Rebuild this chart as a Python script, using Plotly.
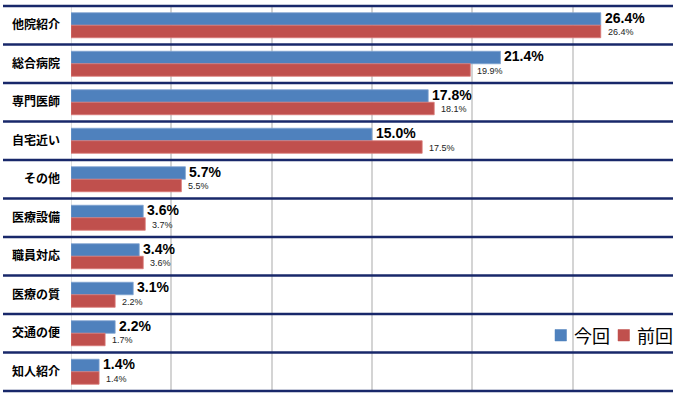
import plotly.graph_objects as go

categories = ["他院紹介", "総合病院", "専門医師", "自宅近い", "その他",
              "医療設備", "職員対応", "医療の質", "交通の便", "知人紹介"]
current = [26.4, 21.4, 17.8, 15.0, 5.7, 3.6, 3.4, 3.1, 2.2, 1.4]
previous = [26.4, 19.9, 18.1, 17.5, 5.5, 3.7, 3.6, 2.2, 1.7, 1.4]
series_names = ["今回", "前回"]
x_ticks = [0, 5, 10, 15, 20, 25, 30]

BLUE = "#4F81BD"
RED = "#C0504D"
NAVY = "#18286a"
W, H = 680, 396
ML, MR, MT, MB = 71, 7, 6, 5
PW, PH = W - ML - MR, H - MT - MB

fig = go.Figure()
fig.add_trace(go.Bar(y=categories, x=current, orientation="h", name=series_names[0],
                     marker=dict(color=BLUE, line=dict(color="#7fa3d1", width=0.8)),
                     hoverinfo="x+y"))
fig.add_trace(go.Bar(y=categories, x=previous, orientation="h", name=series_names[1],
                     marker=dict(color=RED, line=dict(color="#d97a77", width=0.8)),
                     hoverinfo="x+y"))

annotations = []
for c, v in zip(categories, current):
    annotations.append(dict(x=v, y=c, xref="x", yref="y", text=f"{v:.1f}%", showarrow=False,
                            xanchor="left", yanchor="middle", xshift=2, yshift=7.5,
                            font=dict(family="Liberation Sans, Arial", size=14, color="#000000",
                                      weight="bold")))
for c, v in zip(categories, previous):
    annotations.append(dict(x=v, y=c, xref="x", yref="y", text=f"{v:.1f}%", showarrow=False,
                            xanchor="left", yanchor="middle", xshift=5, yshift=-7,
                            font=dict(family="Liberation Sans, Arial", size=9, color="#222222")))

shapes = []
n = len(categories)
for k in range(n + 1):
    shapes.append(dict(type="line", xref="paper", yref="paper",
                       x0=(3 - ML) / PW, x1=1.0, y0=k / n, y1=k / n,
                       line=dict(color=NAVY, width=2.5), layer="above"))

# manual legend
def px_x(p):
    return (p - ML) / PW

def px_y(p):
    return (H - MB - p) / PH

leg = [(555, BLUE, 572, series_names[0]), (618, RED, 635, series_names[1])]
for sx, col, tx, name in leg:
    shapes.append(dict(type="rect", xref="paper", yref="paper",
                       x0=px_x(sx), x1=px_x(sx + 11.5), y0=px_y(341), y1=px_y(329.5),
                       fillcolor=col, line=dict(color=col, width=0.5), layer="above"))
    annotations.append(dict(x=px_x(tx), y=px_y(335), xref="paper", yref="paper", text=name,
                            showarrow=False, xanchor="left", yanchor="middle",
                            font=dict(family="Noto Sans CJK JP", size=18, color="#000000")))

fig.update_layout(
    width=W, height=H,
    margin=dict(l=ML, r=MR, t=MT, b=MB, pad=0),
    paper_bgcolor="white", plot_bgcolor="white",
    barmode="group", bargap=0.35, bargroupgap=0.0,
    showlegend=False,
    xaxis=dict(range=[0, 30], tickvals=x_ticks, showticklabels=False, showgrid=True,
               gridcolor="#d4d4d4", gridwidth=1.5, zeroline=False, showline=False,
               fixedrange=True),
    yaxis=dict(autorange="reversed", showgrid=False, zeroline=False, showline=False,
               ticks="", ticklabelstandoff=10,
               tickfont=dict(family="Noto Sans CJK JP", size=12, color="#000000", weight="bold")),
    annotations=annotations,
    shapes=shapes,
)
fig.add_vline(x=0, line=dict(color="#d4d4d4", width=1.5), layer="below")

fig.write_html("out.html",
               config={"displayModeBar": False},
               post_script="document.body.style.margin='0';document.body.style.overflow='hidden';")
